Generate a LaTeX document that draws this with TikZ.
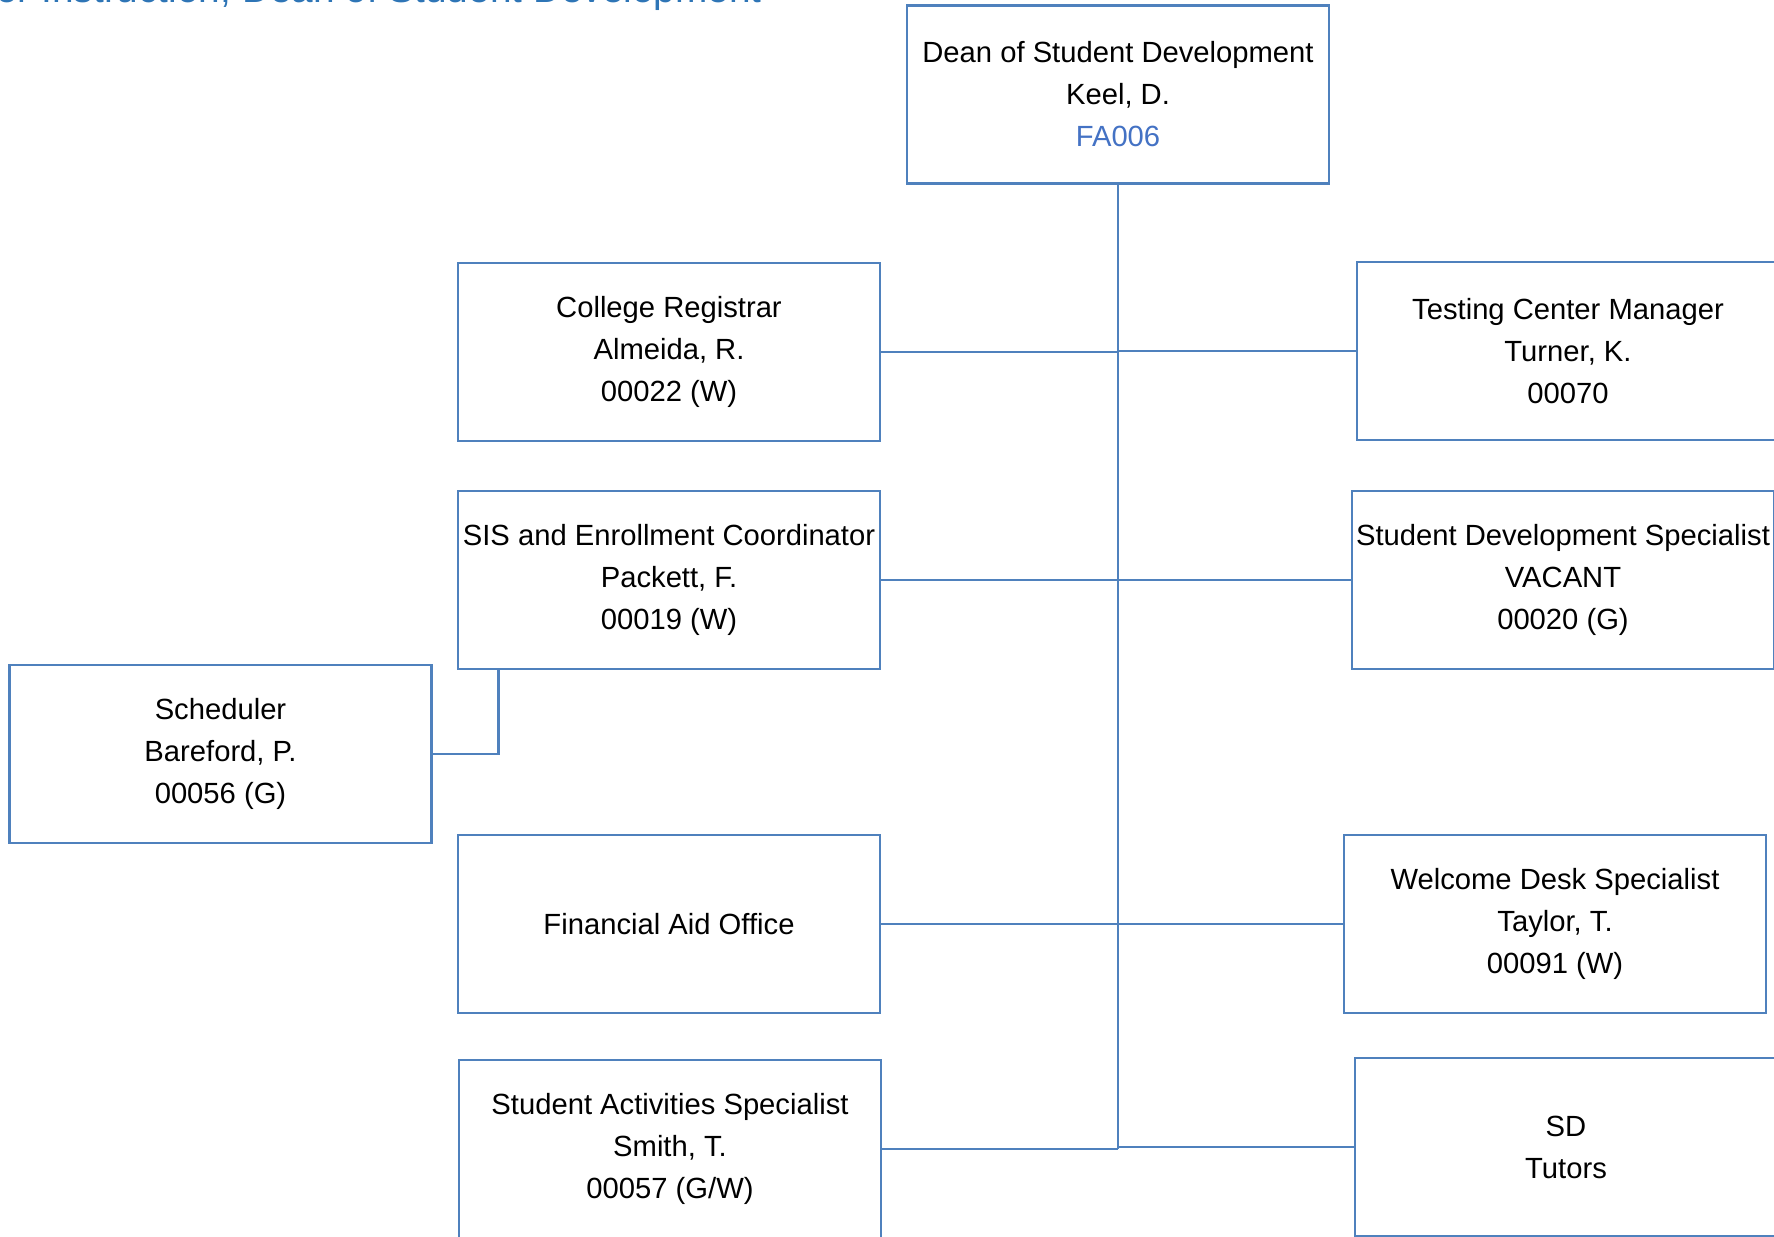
\documentclass[tikz,border=0pt]{standalone}
\usepackage{fontspec}
\setmainfont{Liberation Sans}
\definecolor{orgline}{HTML}{4F81BD}
\definecolor{codeblue}{HTML}{4472C4}
\definecolor{titleblue}{HTML}{2E75B6}
\tikzstyle{post}=[draw=orgline,line width=1.4pt,align=center,minimum width=211pt,minimum height=89pt,inner sep=2pt,font=\fontsize{14.6}{21}\selectfont]
\tikzstyle{link}=[draw=orgline,line width=1.4pt]

\begin{document}
\begin{tikzpicture}[x=0.5pt,y=-0.5pt]
    \useasboundingbox (0,0) rectangle (1774,1237);
    \clip (0,0) rectangle (1774,1237);
    \node [anchor=base east,text=titleblue,font=\fontsize{19.4}{23}\selectfont] (title) at (769,2) {Vice President for Instruction, Dean of Student Development};
    \node [post] (dean) at (1118,94.5) {Dean of Student Development\\Keel, D.\\\textcolor{codeblue}{FA006}};
    \node [post] (reg) at (669,352) {College Registrar\\Almeida, R.\\00022 (W)};
    \node [post] (sis) at (669,580) {SIS and Enrollment Coordinator\\Packett, F.\\00019 (W)};
    \node [post] (sched) at (220.5,754) {Scheduler\\Bareford, P.\\00056 (G)};
    \node [post] (fin) at (669,924) {Financial Aid Office};
    \node [post] (act) at (670,1149) {Student Activities Specialist\\Smith, T.\\00057 (G/W)};
    \node [post] (test) at (1568,351) {Testing Center Manager\\Turner, K.\\00070};
    \node [post] (sds) at (1563,580) {Student Development Specialist\\VACANT\\00020 (G)};
    \node [post] (welc) at (1555,924) {Welcome Desk Specialist\\Taylor, T.\\00091 (W)};
    \node [post] (tutor) at (1566,1147) {SD\\Tutors};
    \draw [link] (dean.south) -- (dean.south |- act.east);
    \draw [link] (reg.east) -- (reg.east -| dean.south);
    \draw [link] (sis.east) -- (sis.east -| dean.south);
    \draw [link] (fin.east) -- (fin.east -| dean.south);
    \draw [link] (act.east) -- (act.east -| dean.south);
    \draw [link] (test.west) -- (test.west -| dean.south);
    \draw [link] (sds.west) -- (sds.west -| dean.south);
    \draw [link] (welc.west) -- (welc.west -| dean.south);
    \draw [link] (tutor.west) -- (tutor.west -| dean.south);
    \draw [link] ([xshift=21pt]sis.south west) |- (sched.east);
\end{tikzpicture}
\end{document}
